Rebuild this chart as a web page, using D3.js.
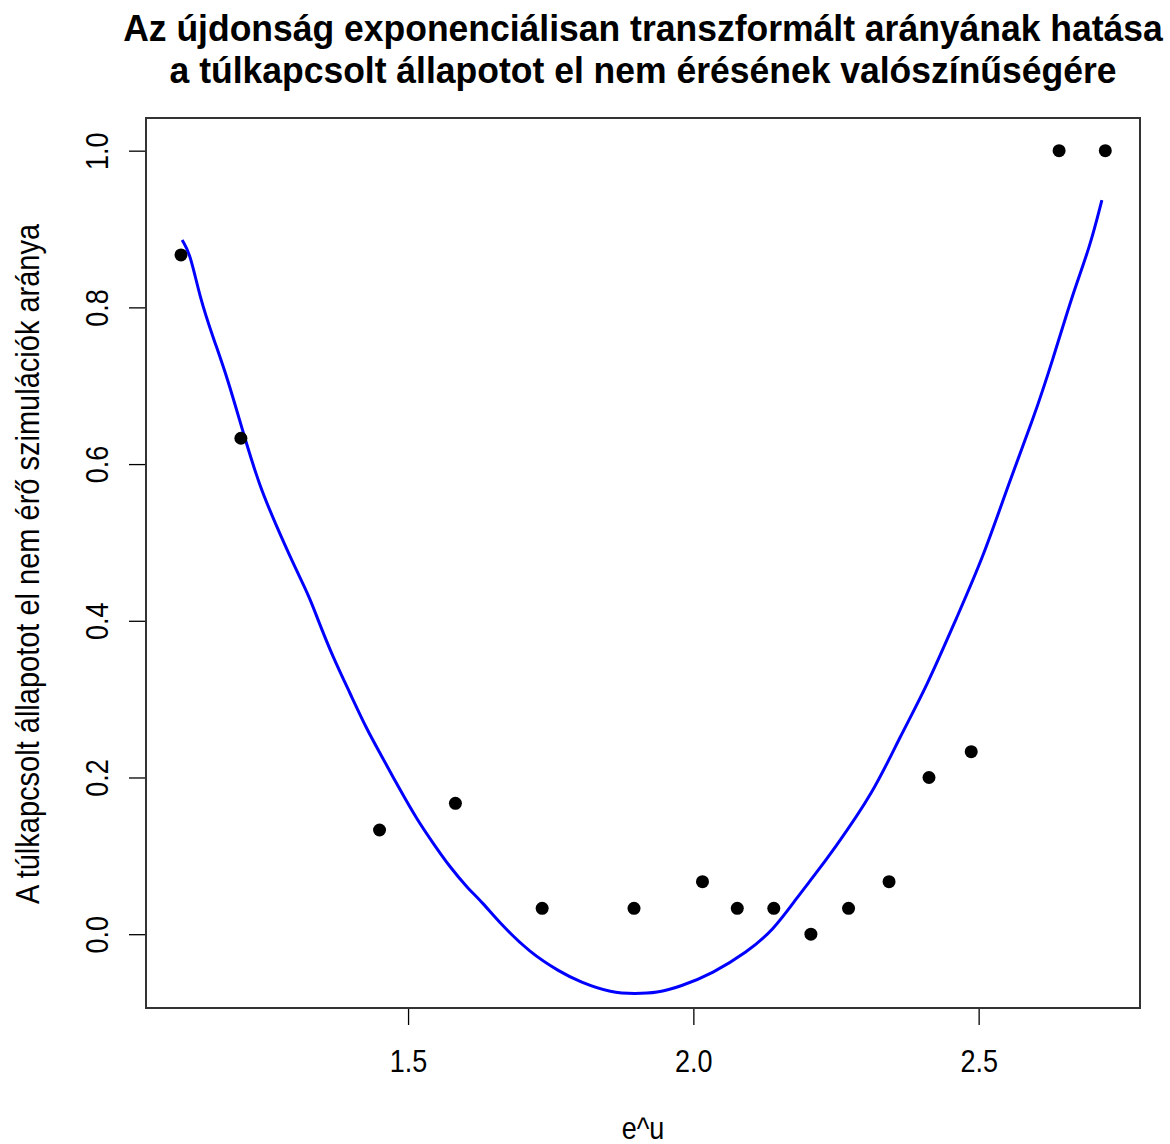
<!DOCTYPE html>
<html>
<head>
<meta charset="utf-8">
<script src="https://cdn.jsdelivr.net/npm/d3@7"></script>
<style>
  html, body { margin: 0; padding: 0; background: #fff; }
  svg { display: block; font-family: "Liberation Sans", Arial, sans-serif; }
</style>
</head>
<body>
<svg id="chart" width="1170" height="1144"></svg>
<script>
// Observed proportions per e^u value
const pointX = [1.102, 1.207, 1.450, 1.583, 1.735, 1.896, 2.016, 2.077, 2.141, 2.206, 2.272, 2.343, 2.413, 2.487, 2.641, 2.722];
const pointY = [0.867, 0.633, 0.133, 0.167, 0.033, 0.033, 0.067, 0.033, 0.033, 0.000, 0.033, 0.067, 0.200, 0.233, 1.000, 1.000];

// Fitted curve
const curveX = [1.104, 1.118, 1.135, 1.158, 1.183, 1.211, 1.240, 1.270, 1.298, 1.328, 1.340, 1.368, 1.398, 1.428, 1.451, 1.486, 1.516, 1.544, 1.573, 1.603, 1.631, 1.661, 1.714, 1.766, 1.801, 1.857, 1.898, 1.936, 1.977, 2.034, 2.094, 2.140, 2.182, 2.210, 2.245, 2.315, 2.362, 2.409, 2.462, 2.508, 2.555, 2.595, 2.630, 2.665, 2.695, 2.716];
const curveY = [0.886, 0.869, 0.813, 0.762, 0.711, 0.640, 0.571, 0.520, 0.474, 0.429, 0.405, 0.354, 0.308, 0.261, 0.231, 0.184, 0.146, 0.116, 0.086, 0.060, 0.040, 0.014, -0.024, -0.048, -0.061, -0.075, -0.076, -0.075, -0.067, -0.050, -0.023, 0.005, 0.047, 0.073, 0.107, 0.180, 0.252, 0.316, 0.405, 0.481, 0.580, 0.656, 0.733, 0.818, 0.877, 0.937];

const xTicks = [1.5, 2.0, 2.5];
const yTicks = [0.0, 0.2, 0.4, 0.6, 0.8, 1.0];

const titleLines = [
  "Az újdonság exponenciálisan transzformált arányának hatása",
  "a túlkapcsolt állapotot el nem érésének valószínűségére"
];
const xLabel = "e^u";
const yLabel = "A túlkapcsolt állapotot el nem érő szimulációk aránya";

const svg = d3.select("#chart");
const plot = { left: 146, right: 1140, top: 118, bottom: 1008 };
const stretch = 1.15;   // taller-than-wide glyphs

const x = d3.scaleLinear().domain([1.0407, 2.7828]).range([plot.left, plot.right]);
const y = d3.scaleLinear().domain([-0.0942, 1.0417]).range([plot.bottom, plot.top]);

// Title
svg.append("g")
  .selectAll("g")
  .data(titleLines)
  .join("g")
  .attr("transform", (d, i) => `translate(${(plot.left + plot.right) / 2},${41 + i * 42}) scale(1,1.06)`)
  .append("text")
  .attr("text-anchor", "middle")
  .attr("font-weight", "bold")
  .attr("font-size", 35.5)
  .attr("fill", "#000")
  .text(d => d);

// X axis
const xAxis = svg.append("g")
  .attr("transform", `translate(0,${plot.bottom})`)
  .call(d3.axisBottom(x).tickValues(xTicks).tickFormat(d3.format(".1f")).tickSize(17));
xAxis.select(".domain").remove();
xAxis.selectAll(".tick line").attr("stroke", "#000").attr("stroke-width", 1.3);
xAxis.selectAll(".tick text")
  .attr("font-size", 27)
  .attr("font-family", "Liberation Sans, Arial, sans-serif")
  .attr("fill", "#000")
  .attr("y", null)
  .attr("dy", null)
  .attr("transform", `translate(0,64) scale(1,${stretch})`);

// Y axis
const yAxis = svg.append("g")
  .attr("transform", `translate(${plot.left},0)`)
  .call(d3.axisLeft(y).tickValues(yTicks).tickFormat(d3.format(".1f")).tickSize(17));
yAxis.select(".domain").remove();
yAxis.selectAll(".tick line").attr("stroke", "#000").attr("stroke-width", 1.3);
yAxis.selectAll(".tick text")
  .attr("font-size", 27)
  .attr("font-family", "Liberation Sans, Arial, sans-serif")
  .attr("fill", "#000")
  .attr("x", null)
  .attr("dy", null)
  .attr("text-anchor", "middle")
  .attr("dominant-baseline", "central")
  .attr("transform", `translate(-49,0) rotate(-90) scale(1,${stretch})`);

// Axis titles
svg.append("text")
  .attr("transform", `translate(${(plot.left + plot.right) / 2},1139) scale(1,${stretch})`)
  .attr("text-anchor", "middle")
  .attr("font-size", 27)
  .attr("fill", "#000")
  .text(xLabel);

svg.append("text")
  .attr("transform", `translate(39,${(plot.top + plot.bottom) / 2 + 1}) rotate(-90) scale(1,${stretch})`)
  .attr("text-anchor", "middle")
  .attr("font-size", 29)
  .attr("fill", "#000")
  .text(yLabel);

// Fitted curve
const curveData = curveX.map((v, i) => [v, curveY[i]]);
svg.append("path")
  .datum(curveData)
  .attr("fill", "none")
  .attr("stroke", "#0000ff")
  .attr("stroke-width", 3)
  .attr("stroke-linejoin", "round")
  .attr("d", d3.line().x(d => x(d[0])).y(d => y(d[1])).curve(d3.curveBasis));

// Observed points
svg.append("g")
  .selectAll("circle")
  .data(pointX.map((v, i) => [v, pointY[i]]))
  .join("circle")
  .attr("cx", d => x(d[0]))
  .attr("cy", d => y(d[1]))
  .attr("r", 6.5)
  .attr("fill", "#000");

// Plot frame
svg.append("rect")
  .attr("x", plot.left)
  .attr("y", plot.top)
  .attr("width", plot.right - plot.left)
  .attr("height", plot.bottom - plot.top)
  .attr("fill", "none")
  .attr("stroke", "#333")
  .attr("stroke-width", 2);
</script>
</body>
</html>
